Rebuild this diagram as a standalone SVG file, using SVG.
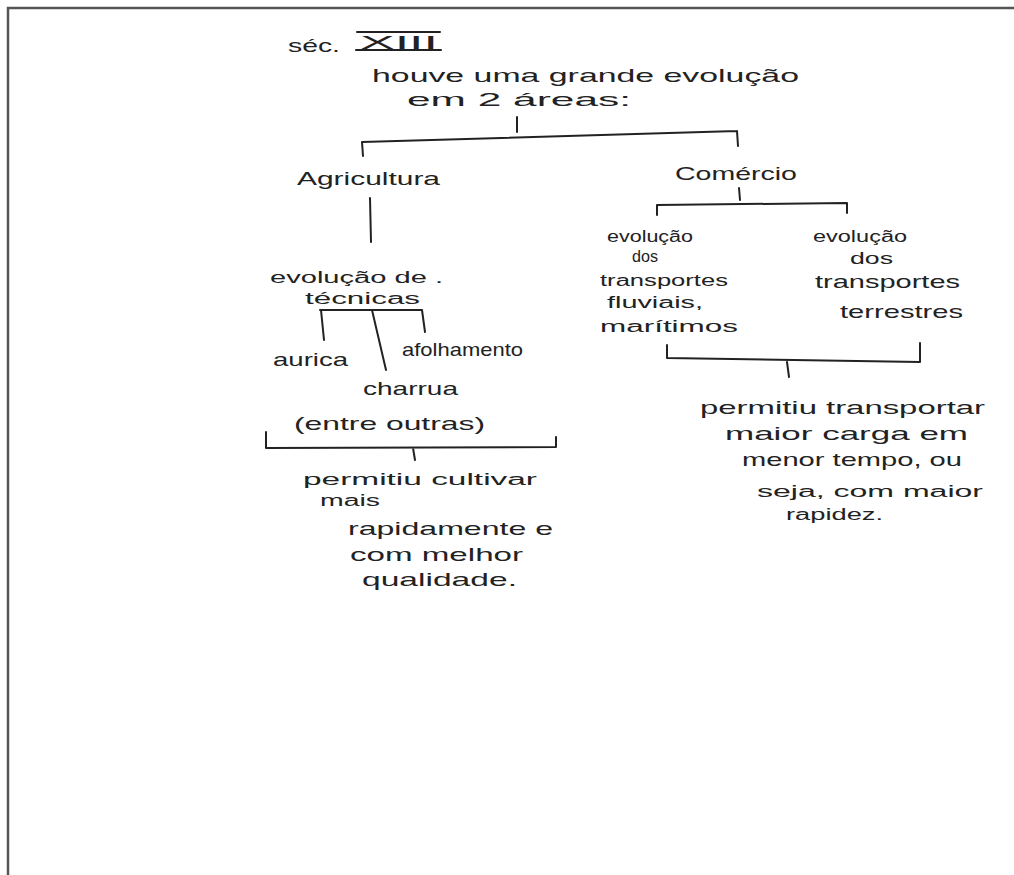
<svg xmlns="http://www.w3.org/2000/svg" width="1014" height="875" viewBox="0 0 1014 875">
<style>
.t{font-family:"Liberation Sans",Arial,sans-serif;font-size:19px;fill:#222;}
.s{font-size:16px;}
.c{fill:none;stroke:#222;stroke-width:2;stroke-linecap:round;stroke-linejoin:round;}
.f{fill:none;stroke:#555;stroke-width:2.5;}
</style>
<rect width="1014" height="875" fill="#fff"/>
<path class="f" d="M8,875 L8,8 L1014,8"/>
<g id="titulo">
<text class="t" x="288" y="52" textLength="52" lengthAdjust="spacingAndGlyphs">séc.</text>
<text class="t" x="360" y="49" textLength="78" lengthAdjust="spacingAndGlyphs" font-size="22">XIII</text>
<path class="c" d="M357,32 L440,32 M356,50 L441,50"/>
</g>
<g id="intro">
<text class="t" x="372" y="82" textLength="427" lengthAdjust="spacingAndGlyphs" font-size="21">houve uma grande evolução</text>
<text class="t" x="407" y="106" textLength="224" lengthAdjust="spacingAndGlyphs" font-size="21">em 2 áreas:</text>
</g>
<g id="agricultura">
<text class="t" x="297" y="185" textLength="143" lengthAdjust="spacingAndGlyphs" font-size="21">Agricultura</text>
</g>
<g id="comercio">
<text class="t" x="675" y="180" textLength="122" lengthAdjust="spacingAndGlyphs" font-size="21">Comércio</text>
</g>
<g id="evolucao-tecnicas">
<text class="t s" x="270" y="283" textLength="173" lengthAdjust="spacingAndGlyphs">evolução de .</text>
<text class="t s" x="305" y="304" textLength="115" lengthAdjust="spacingAndGlyphs">técnicas</text>
</g>
<g id="aurica">
<text class="t" x="273" y="366" textLength="75" lengthAdjust="spacingAndGlyphs">aurica</text>
</g>
<g id="afolhamento">
<text class="t" x="402" y="356" textLength="121" lengthAdjust="spacingAndGlyphs" font-size="17">afolhamento</text>
</g>
<g id="charrua">
<text class="t" x="363" y="395" textLength="95" lengthAdjust="spacingAndGlyphs">charrua</text>
<text class="t" x="294" y="430" textLength="191" lengthAdjust="spacingAndGlyphs">(entre outras)</text>
</g>
<g id="resultado-agricultura">
<text class="t s" x="303" y="485" textLength="234" lengthAdjust="spacingAndGlyphs">permitiu cultivar</text>
<text class="t s" x="320" y="506" textLength="60" lengthAdjust="spacingAndGlyphs">mais</text>
<text class="t" x="348" y="535" textLength="205" lengthAdjust="spacingAndGlyphs">rapidamente e</text>
<text class="t" x="350" y="561" textLength="173" lengthAdjust="spacingAndGlyphs">com melhor</text>
<text class="t" x="362" y="586" textLength="155" lengthAdjust="spacingAndGlyphs">qualidade.</text>
</g>
<g id="transportes-fluviais">
<text class="t s" x="607" y="242" textLength="86" lengthAdjust="spacingAndGlyphs">evolução</text>
<text class="t s" x="632" y="262" textLength="26" lengthAdjust="spacingAndGlyphs">dos</text>
<text class="t s" x="600" y="286" textLength="128" lengthAdjust="spacingAndGlyphs">transportes</text>
<text class="t s" x="607" y="308" textLength="96" lengthAdjust="spacingAndGlyphs">fluviais,</text>
<text class="t s" x="600" y="332" textLength="138" lengthAdjust="spacingAndGlyphs">marítimos</text>
</g>
<g id="transportes-terrestres">
<text class="t s" x="813" y="242" textLength="94" lengthAdjust="spacingAndGlyphs">evolução</text>
<text class="t s" x="850" y="264" textLength="43" lengthAdjust="spacingAndGlyphs">dos</text>
<text class="t" x="815" y="288" textLength="145" lengthAdjust="spacingAndGlyphs">transportes</text>
<text class="t" x="840" y="318" textLength="123" lengthAdjust="spacingAndGlyphs">terrestres</text>
</g>
<g id="resultado-comercio">
<text class="t" x="700" y="414" textLength="285" lengthAdjust="spacingAndGlyphs">permitiu transportar</text>
<text class="t" x="725" y="440" textLength="243" lengthAdjust="spacingAndGlyphs">maior carga em</text>
<text class="t" x="742" y="466" textLength="220" lengthAdjust="spacingAndGlyphs">menor tempo, ou</text>
<text class="t s" x="757" y="497" textLength="226" lengthAdjust="spacingAndGlyphs">seja, com maior</text>
<text class="t s" x="786" y="520" textLength="97" lengthAdjust="spacingAndGlyphs">rapidez.</text>
</g>
<g id="connectors">
<path class="c" d="M517,117 L517,132 M362,142 L737,131 M362,142 L363,156 M737,131 L738,146"/>
<path class="c" d="M370,198 L371,242"/>
<path class="c" d="M320,310 L422,310 M321,310 L324,340 M372,310 L386,370 M422,310 L425,332"/>
<path class="c" d="M266,432 L266,448 L556,447 L556,437 M413,448 L415,460"/>
<path class="c" d="M739,188 L740,200 M657,205 L847,203 M657,205 L657,215 M847,203 L847,213"/>
<path class="c" d="M667,345 L667,358 L920,362 L920,343 M787,362 L789,377"/>
</g>
</svg>
